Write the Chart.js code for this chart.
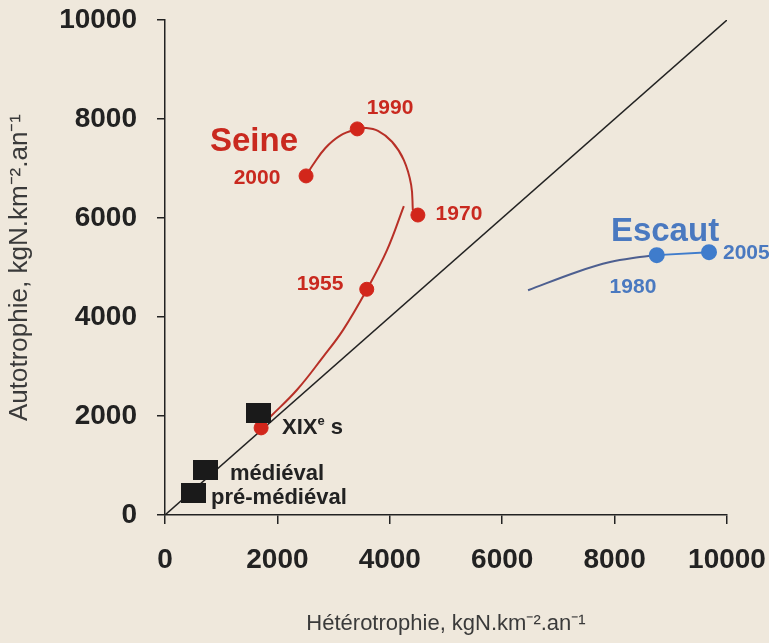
<!DOCTYPE html>
<html>
<head>
<meta charset="utf-8">
<script src="https://cdn.jsdelivr.net/npm/chart.js@4.4.1/dist/chart.umd.min.js"></script>
<style>
  html, body { margin: 0; padding: 0; background: #efe8dc; }
  #chart { display: block; }
</style>
</head>
<body>
<canvas id="chart" width="769" height="643"></canvas>
<script>
// axis ticks
const tickValues = [0, 2000, 4000, 6000, 8000, 10000];

// Seine, observed years
const seineYears = ["XIXe s", "1955", "1970", "1990", "2000"];
const seineX = [1710, 3590, 4500, 3420, 2510];
const seineY = [1760, 4560, 6060, 7800, 6850];

// Seine trend curves (hand drawn in the figure)
const seineTrendAX = [1870, 2350, 2810, 3170, 3590, 3950, 4250];
const seineTrendAY = [1980, 2530, 3190, 3740, 4550, 5350, 6240];
const seineTrendBX = [4410, 4380, 4250, 4040, 3790, 3560, 3420, 3110, 2850, 2630, 2510];
const seineTrendBY = [6160, 6670, 7170, 7540, 7760, 7820, 7800, 7660, 7410, 7070, 6850];

// Escaut
const escautYears = ["1980", "2005"];
const escautX = [8750, 9680];
const escautY = [5250, 5310];
const escautTrendX = [6460, 7330, 7920, 8450, 8750];
const escautTrendY = [4540, 4910, 5110, 5210, 5250];

// historical periods (black squares)
const periods = ["pré-médiéval", "médiéval", "XIXe s"];
const periodX = [507, 721, 1663];
const periodY = [444, 909, 2051];

// 1:1 line
const diagX = [0, 10000];
const diagY = [0, 10000];

const RED = "#d2261b";
const RED_TXT = "#c9291f";
const BLUE = "#3f7ccc";
const BLUE_TXT = "#4a79c0";
const DARK = "#222222";

function pts(xs, ys) {
  return xs.map((x, i) => ({ x: x, y: ys[i] }));
}

// black rectangle marker
const square = document.createElement("canvas");
square.width = 25;
square.height = 20;
const sctx = square.getContext("2d");
sctx.fillStyle = "#1a1a1a";
sctx.fillRect(0, 0, 25, 20);

// text annotations, in data coordinates
const annotations = [
  { parts: [{ t: "Seine" }], x: 1584, y: 7535, size: 33, color: RED_TXT, align: "center" },
  { parts: [{ t: seineYears[3] }], x: 4004, y: 8222, size: 21, color: RED_TXT, align: "center" },
  { parts: [{ t: seineYears[4] }], x: 1637, y: 6808, size: 21, color: RED_TXT, align: "center" },
  { parts: [{ t: seineYears[2] }], x: 5231, y: 6081, size: 21, color: RED_TXT, align: "center" },
  { parts: [{ t: seineYears[1] }], x: 2758, y: 4667, size: 21, color: RED_TXT, align: "center" },
  { parts: [{ t: "Escaut" }], x: 8897, y: 5717, size: 33, color: BLUE_TXT, align: "center" },
  { parts: [{ t: escautYears[1] }], x: 9929, y: 5293, size: 21, color: BLUE_TXT, align: "left" },
  { parts: [{ t: escautYears[0] }], x: 8327, y: 4606, size: 21, color: BLUE_TXT, align: "center" },
  { parts: [{ t: "XIX" }, { t: "e", sup: true }, { t: " s" }], x: 2082, y: 1758, size: 22, color: DARK, align: "left" },
  { parts: [{ t: periods[1] }], x: 1157, y: 828, size: 22, color: DARK, align: "left" },
  { parts: [{ t: periods[0] }], x: 819, y: 343, size: 22, color: DARK, align: "left" }
];

const bgPlugin = {
  id: "bg",
  beforeDraw(chart) {
    const c = chart.ctx;
    c.save();
    c.fillStyle = "#efe8dc";
    c.fillRect(0, 0, chart.width, chart.height);
    c.restore();
  }
};

const labelPlugin = {
  id: "labels",
  afterDatasetsDraw(chart) {
    const c = chart.ctx;
    const xs = chart.scales.x, ys = chart.scales.y;
    c.save();
    c.textBaseline = "middle";
    annotations.forEach(a => {
      const font = s => "bold " + s + "px 'Liberation Sans', Arial, sans-serif";
      let total = 0;
      a.parts.forEach(p => {
        c.font = font(p.sup ? Math.round(a.size * 0.6) : a.size);
        total += c.measureText(p.t).width;
      });
      let px = xs.getPixelForValue(a.x);
      const py = ys.getPixelForValue(a.y);
      if (a.align === "center") px -= total / 2;
      c.fillStyle = a.color;
      c.textAlign = "left";
      a.parts.forEach(p => {
        c.font = font(p.sup ? Math.round(a.size * 0.6) : a.size);
        c.fillText(p.t, px, p.sup ? py - a.size * 0.3 : py);
        px += c.measureText(p.t).width;
      });
    });
    c.restore();
  }
};

const tickFont = { family: "'Liberation Sans', Arial, sans-serif", size: 28, weight: "bold" };
const xTitleFont = { family: "'Liberation Sans', Arial, sans-serif", size: 22 };
const yTitleFont = { family: "'Liberation Sans', Arial, sans-serif", size: 26 };

const config = {
  type: "scatter",
  data: {
    datasets: [
      {
        label: "périodes",
        data: pts(periodX, periodY),
        pointStyle: square,
        order: 0
      },
      {
        label: "Seine",
        data: pts(seineX, seineY),
        backgroundColor: RED,
        borderColor: RED,
        pointRadius: 7,
        order: 1
      },
      {
        label: "Escaut",
        data: pts(escautX, escautY),
        backgroundColor: BLUE,
        borderColor: BLUE,
        pointRadius: 7,
        showLine: true,
        borderWidth: 2,
        order: 1
      },
      {
        label: "Seine tendance 1",
        data: pts(seineTrendAX, seineTrendAY),
        showLine: true,
        borderColor: "#b83027",
        borderWidth: 2,
        pointRadius: 0,
        tension: 0.4,
        order: 2
      },
      {
        label: "Seine tendance 2",
        data: pts(seineTrendBX, seineTrendBY),
        showLine: true,
        borderColor: "#b83027",
        borderWidth: 2,
        pointRadius: 0,
        tension: 0.4,
        order: 2
      },
      {
        label: "Escaut tendance",
        data: pts(escautTrendX, escautTrendY),
        showLine: true,
        borderColor: "#4d5f90",
        borderWidth: 2,
        pointRadius: 0,
        tension: 0.4,
        order: 2
      },
      {
        label: "1:1",
        data: pts(diagX, diagY),
        showLine: true,
        borderColor: DARK,
        borderWidth: 1.5,
        pointRadius: 0,
        order: 3
      }
    ]
  },
  options: {
    responsive: false,
    animation: false,
    layout: { padding: { top: 20, right: 42, left: 0, bottom: 0 } },
    plugins: {
      legend: { display: false },
      tooltip: { enabled: false }
    },
    scales: {
      x: {
        type: "linear",
        min: 0,
        max: 10000,
        afterFit(scale) {
          scale.height = 128;
          scale.paddingLeft = 0;
          scale.paddingRight = 0;
        },
        afterBuildTicks(scale) { scale.ticks = tickValues.map(v => ({ value: v })); },
        grid: { drawOnChartArea: false, drawTicks: true, tickLength: 9, color: DARK, lineWidth: 1.5 },
        border: { color: DARK, width: 1.5 },
        ticks: { color: DARK, font: tickFont, padding: 19, maxRotation: 0, callback: v => String(v) },
        title: {
          display: true,
          text: "Hétérotrophie, kgN.km⁻².an⁻¹",
          color: "#3a3a3a",
          font: xTitleFont,
          padding: { top: 6, bottom: 6 }
        }
      },
      y: {
        type: "linear",
        min: 0,
        max: 10000,
        afterFit(scale) {
          scale.width = 165;
          scale.paddingTop = 0;
          scale.paddingBottom = 0;
        },
        afterBuildTicks(scale) { scale.ticks = tickValues.map(v => ({ value: v })); },
        grid: { drawOnChartArea: false, drawTicks: true, tickLength: 8, color: DARK, lineWidth: 1.5 },
        border: { color: DARK, width: 1.5 },
        ticks: { color: DARK, font: tickFont, padding: 20, callback: v => String(v) },
        title: {
          display: true,
          text: "Autotrophie, kgN.km⁻².an⁻¹",
          color: "#3a3a3a",
          font: yTitleFont,
          padding: { top: 4, bottom: 4 }
        }
      }
    }
  },
  plugins: [bgPlugin, labelPlugin]
};

const canvas = document.getElementById("chart");
if (canvas) {
  new Chart(canvas.getContext("2d"), config);
} else {
  console.error("canvas not found");
}
</script>
</body>
</html>
